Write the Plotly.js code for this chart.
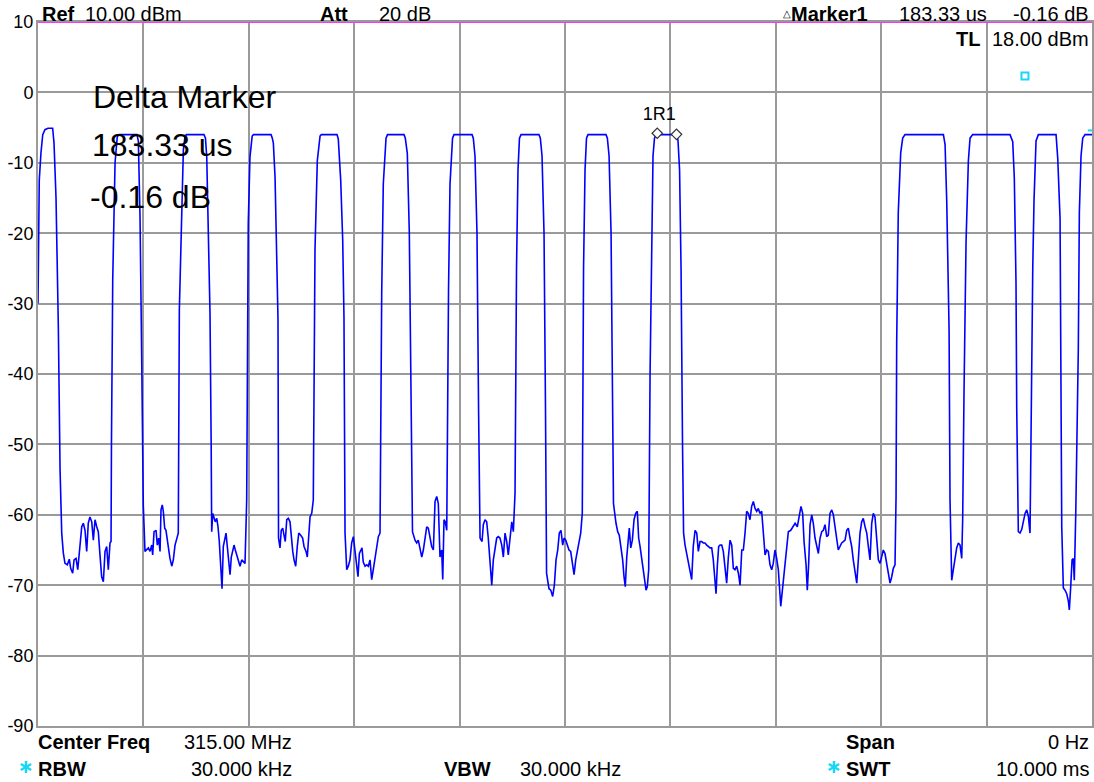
<!DOCTYPE html>
<html>
<head>
<meta charset="utf-8">
<script src="https://cdn.plot.ly/plotly-3.0.1.min.js"></script>
<style>html,body{margin:0;padding:0;background:#fff;}#chart{width:1094px;height:782px;}</style>
</head>
<body>
<div id="chart"></div>
<script>
// ---- data (time in ms, level in dBm) ----
var traceTime = [
0.000,0.005,0.012,0.028,0.045,0.066,0.095,0.139,0.152,0.171,0.193,0.209,0.225,0.240,
0.256,0.278,0.297,0.310,0.329,0.342,0.361,0.377,0.398,0.415,0.430,0.446,0.462,0.477,0.493,0.510,0.525,0.541,0.557,0.572,0.588,0.604,0.620,0.636,0.652,0.667,0.683,0.693,
0.697,0.709,0.731,0.752,0.769,0.939,0.952,0.968,0.984,0.999,
1.015,1.031,1.047,1.063,1.079,1.088,1.101,1.120,1.132,1.145,1.158,1.167,1.179,1.189,1.202,1.214,1.227,1.240,1.252,1.269,1.284,1.300,1.316,1.331,
1.341,1.363,1.379,1.395,1.409,1.575,1.589,1.601,1.616,1.632,1.643,1.648,
1.658,1.670,1.682,1.696,1.708,1.720,1.733,1.746,1.758,1.771,1.784,1.796,1.809,1.822,1.834,1.847,1.860,1.872,1.885,1.900,1.917,1.933,1.948,1.964,1.980,
1.995,2.011,2.032,2.045,2.211,2.223,2.233,2.249,2.265,2.277,2.282,
2.296,2.308,2.322,2.334,2.346,2.360,2.375,2.391,2.403,2.417,2.429,2.445,2.460,2.474,2.493,2.511,2.524,2.543,2.555,2.568,2.581,2.597,2.612,
2.628,2.650,2.676,2.688,2.837,2.849,2.872,2.891,2.903,2.913,
2.929,2.944,2.960,2.976,2.992,3.008,3.024,3.036,3.049,3.062,3.074,3.086,3.103,3.119,3.134,3.150,3.166,3.181,3.197,3.214,3.229,3.245,
3.261,3.276,3.302,3.316,3.473,3.485,3.504,3.523,3.539,3.553,
3.577,3.593,3.608,3.624,3.641,3.656,3.672,3.688,3.703,3.719,3.735,3.751,3.767,3.783,3.798,3.814,3.830,3.840,3.852,3.864,3.878,
3.895,3.909,3.933,3.947,4.118,4.130,4.146,4.165,4.180,4.194,
4.213,4.225,4.241,4.257,4.272,4.289,4.305,4.320,4.336,4.352,4.367,4.383,4.400,4.415,4.431,4.447,4.462,4.478,4.495,4.510,4.526,
4.540,4.554,4.568,4.583,4.753,4.766,4.782,4.801,4.815,4.825,
4.848,4.865,4.883,4.899,4.915,4.931,4.946,4.962,4.978,4.991,5.007,5.022,5.038,5.054,5.069,5.086,5.102,5.117,5.133,5.149,5.164,
5.176,5.190,5.204,5.218,5.389,5.402,5.418,5.437,5.451,5.460,
5.484,5.500,5.515,5.531,5.547,5.560,5.572,5.586,5.598,5.610,5.624,5.639,5.655,5.671,5.686,5.699,5.712,5.728,5.743,5.756,5.769,5.781,5.794,
5.807,5.821,5.835,5.849,5.864,6.058,6.072,6.087,6.101,6.115,6.125,
6.139,6.155,6.170,6.186,6.202,6.217,6.234,6.250,6.265,6.281,6.297,6.312,6.328,6.345,6.360,6.376,6.392,6.407,6.420,6.433,6.445,6.458,6.471,6.487,6.502,6.518,6.534,6.550,6.566,6.582,6.597,6.613,6.629,6.645,6.661,6.677,6.692,6.708,6.724,6.739,6.755,6.771,6.787,6.803,6.819,6.834,6.850,6.866,6.882,6.898,6.914,6.929,6.945,6.961,6.976,6.992,7.008,7.024,
7.047,7.059,7.071,7.087,7.104,7.119,7.142,7.161,7.183,7.204,7.223,7.239,7.255,7.268,7.287,7.299,7.312,7.325,7.341,7.356,7.372,7.388,7.404,7.420,7.436,7.451,7.467,7.483,7.498,7.514,7.531,7.546,7.562,7.578,7.593,7.609,7.625,7.641,7.657,7.673,7.688,7.704,7.720,7.735,7.752,7.768,7.783,7.799,7.815,7.830,7.847,7.863,7.878,7.894,7.910,7.925,7.941,7.957,7.973,7.989,8.005,8.020,8.036,8.052,8.068,8.084,8.100,8.115,8.131,8.141,
8.147,8.162,8.185,8.204,8.226,8.590,8.606,8.622,8.644,8.653,8.669,8.684,8.700,8.716,8.732,8.748,8.764,8.773,8.786,
8.805,8.827,8.843,8.868,9.222,9.248,9.263,9.279,9.286,9.301,9.317,9.333,9.348,9.365,9.381,9.396,9.412,9.421,
9.438,9.450,9.469,9.491,9.659,9.675,9.697,9.713,9.728,9.744,9.760,9.776,9.785,9.798,9.811,9.823,9.832,9.846,9.858,
9.870,9.880,9.896,9.912,9.934,10.000
];
var traceLevel = [
-30,-22.7,-12.5,-8.6,-6,-5.3,-5.1,-5.1,-7.2,-15,-33.3,-53.4,-62.6,-65.4,
-66.9,-67.1,-66.3,-67.6,-68.3,-66.4,-66.2,-67.8,-64.5,-61.7,-61.2,-62.2,-65.2,-61.2,-60.3,-61,-63.6,-60.7,-61.7,-62.4,-65.7,-68.8,-69.5,-65.2,-64.5,-67.8,-64,-63.8,
-50,-26.6,-10,-6.3,-6,-6,-6.9,-17.7,-37.8,-58.6,
-65.2,-65,-64.7,-65.2,-64.3,-65.7,-62.4,-62.2,-64.3,-63.3,-65.2,-59.3,-58.6,-59.5,-61.9,-62.2,-63.6,-65.2,-66.2,-67.3,-66.4,-64.3,-63.3,-62.6,
-30.9,-15.3,-8.2,-6.2,-6,-6,-6.5,-9.2,-22.4,-31.4,-50,-62.4,
-59.8,-60.3,-61,-60.5,-61.7,-63.8,-67.8,-70.5,-64.5,-63.6,-62.6,-64.5,-66.4,-68.5,-66,-65,-64.3,-65,-65.7,-66.4,-67.3,-66.4,-66.7,-66.9,-57.9,
-18.6,-9.2,-6.2,-6,-6,-6.5,-7.2,-12,-25.2,-32.2,-63.3,
-64.7,-62.2,-61.9,-62.9,-63.8,-60.7,-60.5,-61,-63.3,-65.2,-66.4,-67.3,-64.5,-62.6,-62.9,-63.3,-64.5,-65.2,-66,-63.1,-60.3,-59.8,-57.9,
-22.4,-9.7,-6.2,-6,-6,-6.6,-12.5,-21,-31.9,-62.6,
-67.8,-67.3,-66.4,-64,-63.1,-65.2,-67.8,-68.8,-65.5,-65,-64.7,-66.7,-67.3,-67.1,-67.3,-66.4,-69.2,-67.8,-66,-64.5,-63.1,-62.6,
-28.5,-13,-6.5,-6,-6,-6.5,-8.7,-20,-45,-62.4,
-63.6,-64,-63.6,-65,-66,-65,-63.3,-61.7,-61.9,-63.3,-64.5,-65,-58.1,-57.4,-58.4,-66,-65,-69.2,-60.7,-61,-62.2,
-28,-13,-6.5,-6,-6,-6.5,-9,-20,-45,-63.3,
-63.8,-61.4,-60.7,-61,-63.3,-67.6,-70,-66.4,-65,-63.3,-63.1,-63.3,-64.3,-66,-62.6,-63.8,-65.7,-62.9,-61,-62.4,-56.9,
-25,-11,-6.5,-6,-6,-6.5,-9,-20,-45,-68.3,
-70.5,-70.7,-71.6,-70,-66.4,-65,-62.6,-62.2,-64.3,-63.3,-63.6,-64.3,-65,-65.2,-66.7,-68.5,-66.4,-65,-64,-62.6,-59.8,
-25,-11,-6.5,-6,-6,-6.5,-9,-20,-45,-58.4,
-61.2,-62.4,-62.9,-64.5,-66.4,-68.8,-70.2,-66,-63.1,-61.9,-64.7,-63.6,-60.7,-59.8,-59.5,-63.3,-64.5,-66.2,-67.6,-69.5,-70.7,-70.2,-67.8,
-40,-20,-9,-6.5,-6,-6,-6.8,-11,-25,-50,-62.6,
-64.3,-65.5,-66.7,-67.6,-69.2,-64.5,-62.2,-62.6,-65.2,-63.8,-63.8,-64,-64,-64.3,-64.5,-64.7,-64.7,-66.4,-68.8,-71.2,-67.3,-64.5,-64.3,-64.3,-65.2,-67.1,-69.7,-66,-63.6,-64.3,-67.6,-67.8,-67.3,-68.3,-70,-65,-65,-62.6,-59.5,-59.8,-60.7,-58.8,-58.1,-59.1,-59.5,-59.1,-59.8,-59.5,-62.6,-65.7,-65,-65.2,-67.1,-67.8,-66.9,-65,-66.2,-67.8,
-73,-71.2,-69.2,-66.7,-63.8,-62.4,-62.2,-61.7,-61.2,-61.7,-60,-58.8,-59.8,-63.8,-67.1,-70.7,-66.9,-61.4,-60,-61.2,-63.3,-64.5,-65.5,-63.3,-62.4,-62.2,-61.4,-63.1,-62.9,-59.8,-59.3,-60,-61.7,-63.8,-65,-64.5,-64,-63.8,-63.6,-62.2,-61.9,-63.3,-64.5,-66.4,-68.3,-69.7,-66.4,-62.6,-61,-60.5,-61.7,-62.6,-64.5,-66.4,-61.2,-59.8,-60.3,-64,-66.4,-66.9,-66,-65,-65.5,-66.9,-68.8,-69.7,-68.8,-67.6,-67.1,-57.4,
-35.6,-17.1,-8.6,-6.5,-6,-6,-7.4,-15.6,-33.8,-57.9,-69.3,-67.6,-66,-64.7,-64,-64.3,-66.2,-60.7,-42.3,
-21.2,-9.7,-6.5,-6,-6,-7,-12.2,-27.1,-45,-62.4,-62.6,-62.1,-60.9,-59.8,-59.3,-60.2,-62.6,-48,
-24.8,-15.3,-6.9,-6,-6,-9.4,-17.9,-61.7,-70.4,-70.7,-71.2,-72.3,-73.5,-70.2,-66.4,-66.2,-69.3,-59.8,-50,
-36.6,-17.1,-9,-6.5,-6,-6
];

// markers: reference marker 1R1 and delta marker
var markerTime = [5.875, 6.058];
var markerLevel = [-5.8, -5.96];
var markerLabel = "1R1";
// threshold line indicator (cyan)
var tlTime = [9.364];
var tlLevel = [2.33];
var edgeTime = [10.0];
var edgeLevel = [-5.4];

var yTickVals = [10, 0, -10, -20, -30, -40, -50, -60, -70, -80, -90];
var yTickText = ["10", "0", "-10", "-20", "-30", "-40", "-50", "-60", "-70", "-80", "-90"];

// header / footer texts
var hdr = {
  ref: "10.00 dBm", att: "20 dB",
  mk: "183.33 us", mkLvl: "-0.16 dB", tl: "18.00 dBm",
  cf: "315.00 MHz", span: "0 Hz", rbw: "30.000 kHz", vbw: "30.000 kHz", swt: "10.000 ms"
};
var bigText = ["Delta Marker", "183.33 us", "-0.16 dB"];

// ---- layout helpers ----
var L = 38, R = 1092, T = 22, B = 726;
function px(x) { return (x - L) / (R - L); }
function py(y) { return (B - y) / (B - T); }
var FONT = "Liberation Sans, Arial, Helvetica, sans-serif";
var CYAN = "#19d7f5";
function ann(text, x, y, anchor, size, color) {
  return {text: text, xref: "paper", yref: "paper", x: px(x), y: py(y),
    xanchor: anchor, yanchor: "middle", showarrow: false,
    font: {family: FONT, size: size || 20, color: color || "#000"}};
}
// six-armed asterisk drawn as three short lines (paper coords)
function star(cx, cy, r) {
  var out = [];
  [90, 30, -30].forEach(function (a) {
    var dx = r * Math.cos(a * Math.PI / 180), dy = r * Math.sin(a * Math.PI / 180);
    out.push({type: "line", xref: "paper", yref: "paper",
      x0: px(cx - dx), x1: px(cx + dx), y0: py(cy + dy), y1: py(cy - dy),
      line: {color: CYAN, width: 2.5}, layer: "above"});
  });
  return out;
}

var annotations = [
  ann("<b>Ref</b>", 40, 14, "left"),
  ann(hdr.ref, 83, 14, "left"),
  ann("<b>Att</b>", 318, 14, "left"),
  ann(hdr.att, 377, 14, "left"),
  ann("△", 781, 13, "left", 10),
  ann("<b>Marker1</b>", 789, 14, "left"),
  ann(hdr.mk, 897, 14, "left"),
  ann(hdr.mkLvl, 1091, 14, "right"),
  ann("<b>TL</b>", 954, 39, "left"),
  ann(hdr.tl, 1091, 39, "right"),
  ann(bigText[0], 91, 97, "left", 32),
  ann(bigText[1], 90, 145, "left", 32),
  ann(bigText[2], 88, 197, "left", 32),
  ann("<b>Center Freq</b>", 36, 742, "left"),
  ann(hdr.cf, 294, 742, "right"),
  ann("<b>RBW</b>", 36, 769, "left"),
  ann(hdr.rbw, 294, 769, "right"),
  ann("<b>VBW</b>", 442, 769, "left"),
  ann(hdr.vbw, 518, 769, "left"),
  ann("<b>Span</b>", 844, 742, "left"),
  ann(hdr.span, 1091, 742, "right"),
  ann("<b>SWT</b>", 844, 769, "left"),
  ann(hdr.swt, 1091, 769, "right")
];

var data = [
  {x: traceTime, y: traceLevel, type: "scatter", mode: "lines",
   line: {color: "#0000ff", width: 1.6}, hoverinfo: "skip", cliponaxis: true},
  {x: markerTime, y: markerLevel, type: "scatter", mode: "markers",
   marker: {symbol: "diamond", size: 8, color: "#fff", line: {width: 1.2, color: "#333"}},
   hoverinfo: "skip", cliponaxis: false},
  {x: [markerTime[0] + 0.02], y: [markerLevel[0] + 2.5], type: "scatter", mode: "text",
   text: [markerLabel], textposition: "middle center",
   textfont: {family: FONT, size: 18, color: "#000"}, hoverinfo: "skip", cliponaxis: false},
  {x: tlTime, y: tlLevel, type: "scatter", mode: "markers",
   marker: {symbol: "square-open", size: 7, color: CYAN, line: {width: 2}},
   hoverinfo: "skip"},
  {x: edgeTime, y: edgeLevel, type: "scatter", mode: "markers",
   marker: {symbol: "line-ew", size: 6, color: CYAN, line: {width: 2, color: CYAN}},
   hoverinfo: "skip", cliponaxis: false}
];

var shapes = [
  {type: "line", xref: "paper", yref: "y", x0: 0, x1: 1, y0: 10, y1: 10,
   line: {color: "#ff33ff", width: 2}, layer: "above"}
].concat(star(26, 767, 6)).concat(star(834, 767, 6));

var layout = {
  width: 1094, height: 782,
  margin: {l: L, r: 1094 - R, t: T, b: 782 - B, pad: 0},
  paper_bgcolor: "#fff", plot_bgcolor: "#fff",
  showlegend: false,
  font: {family: FONT, color: "#000"},
  xaxis: {range: [0, 10], dtick: 1, tick0: 0, showgrid: true, gridcolor: "#9a9a9a", gridwidth: 2,
    showticklabels: false, ticks: "", zeroline: false, showline: true, linecolor: "#9a9a9a",
    linewidth: 2, mirror: true, fixedrange: true},
  yaxis: {range: [-90, 10], tickvals: yTickVals, ticktext: yTickText, showgrid: true,
    gridcolor: "#9a9a9a", gridwidth: 2, ticks: "", zeroline: false, showline: true,
    linecolor: "#9a9a9a", linewidth: 2, mirror: true, fixedrange: true,
    tickfont: {family: FONT, size: 18, color: "#000"}, ticklabelstandoff: -1},
  shapes: shapes,
  annotations: annotations
};

Plotly.newPlot("chart", data, layout, {staticPlot: true, displayModeBar: false});
</script>
</body>
</html>
